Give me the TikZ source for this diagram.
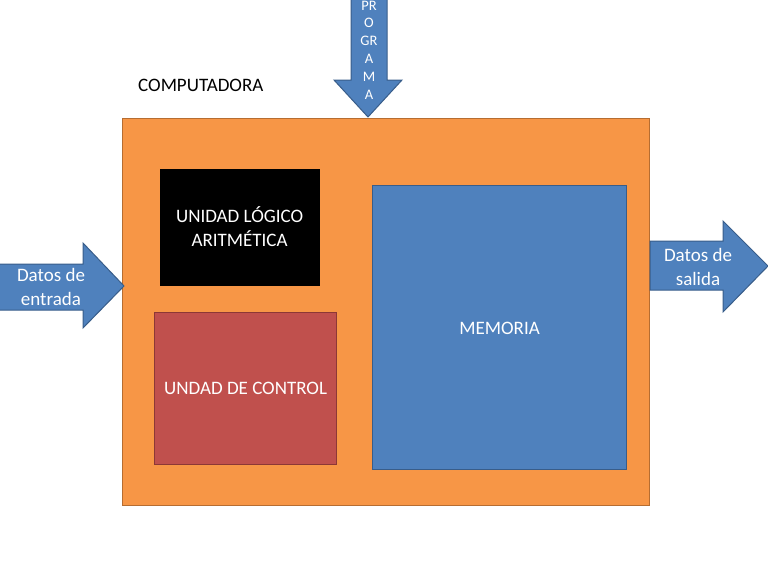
\documentclass[tikz,border=0pt]{standalone}
\usepackage{fontspec}
\setmainfont{Carlito}
\usetikzlibrary{positioning}
\definecolor{naranja}{HTML}{F79646}
\definecolor{naranjaborde}{HTML}{B66D31}
\definecolor{rojo}{HTML}{C0504D}
\definecolor{rojoborde}{HTML}{8C3836}
\definecolor{azul}{HTML}{4F81BD}
\definecolor{azulborde}{HTML}{385D8A}
\tikzset{
x=1pt, y=-1pt, % one unit per pixel of the slide
bloque/.style={draw, line width=1.2pt, anchor=north west, inner sep=0pt}, % sets the properties for each box
flecha/.style={draw=azulborde, fill=azul, line width=1pt, line join=miter}, % sets the properties for the block arrows
texto/.style={text=white, align=center, font=\fontsize{19}{23.5}\selectfont}, % text inside the shapes
}
\begin{document}
\begin{tikzpicture}
\useasboundingbox (0,0) rectangle (768,576);
\node[bloque, draw=naranjaborde, fill=naranja, minimum width=527pt, minimum height=387pt] (comp) at (122,118) {};
\node[bloque, draw=black, fill=black, minimum width=159pt, minimum height=116pt] (ula) at (160,169) {};
\node[bloque, draw=rojoborde, fill=rojo, minimum width=182pt, minimum height=152pt] (uc) at (154,312) {};
\node[bloque, draw=azulborde, fill=azul, minimum width=254pt, minimum height=284pt] (mem) at (372,185) {};
\node[texto] at ([xshift=-0.5pt,yshift=1pt]ula.center) {UNIDAD LÓGICO\\ARITMÉTICA};
\node[texto] at (uc.center) {UNDAD DE CONTROL};
\node[texto] at ([yshift=-1pt]mem.center) {MEMORIA};
\node[font=\fontsize{19}{23}\selectfont, anchor=south west, inner sep=0pt] (titulo) at (138,92) {COMPUTADORA};

\coordinate (punta) at (368,117);
\draw[flecha] (351,-5) -- (387,-5) -- (387,80) -- (402,80) -- (punta) -- (334,80) -- (351,80) -- cycle;
\node[texto, font=\fontsize{14.5}{17.8}\selectfont] (prog) at (369,50) {PR\\O\\GR\\A\\M\\A};

\coordinate (entra) at (124,286);
\draw[flecha] (-5,264) -- (83,264) -- (83,243) -- (entra) -- (83,328) -- (83,310) -- (-5,310) -- cycle;
\node[texto] (entrada) at (51,287) {Datos de\\entrada};

\coordinate (sale) at (768,266);
\draw[flecha] (650,241) -- (723,241) -- (723,221) -- (sale) -- (723,312) -- (723,290) -- (650,290) -- cycle;
\node[texto] (salida) at (698,267) {Datos de\\salida};
\end{tikzpicture}
\end{document}
